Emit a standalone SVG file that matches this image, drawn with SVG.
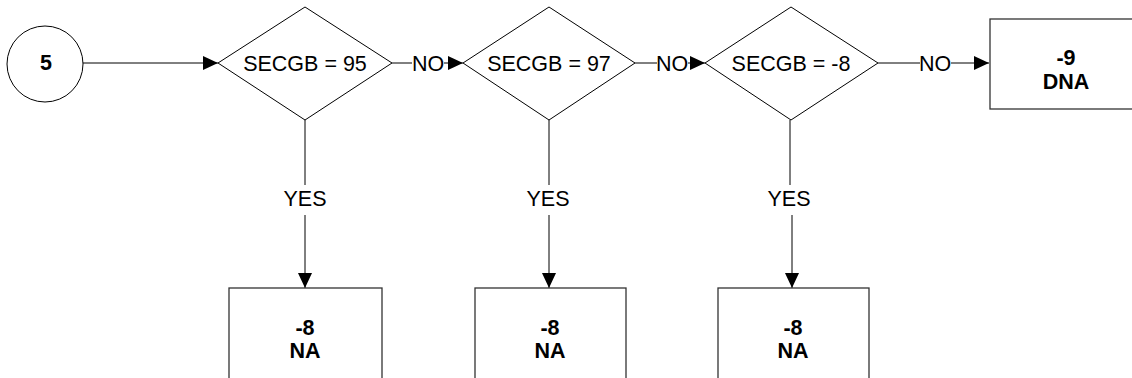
<svg xmlns="http://www.w3.org/2000/svg" width="1132" height="378" viewBox="0 0 1132 378">
<style>
.shape{fill:#fff;stroke:#000;stroke-width:1}
.box{fill:#fff;stroke:#333;stroke-width:1.3}
.line{fill:none;stroke:#000;stroke-width:1}
.t{font-family:"Liberation Sans",Arial,sans-serif;font-size:21.5px;fill:#000;text-anchor:middle}
.b{font-weight:bold}
</style>
<defs>
<marker id="ah" markerUnits="userSpaceOnUse" markerWidth="18" markerHeight="18" viewBox="0 0 18 18" refX="17" refY="9" orient="auto">
<path d="M2,2 L17,9 L2,16 Z" fill="#000"/>
</marker>
</defs>
<rect width="1132" height="378" fill="#fff"/>
<g id="connectors">
<line class="line" x1="83" y1="63" x2="218" y2="63" marker-end="url(#ah)"/>
<line class="line" x1="392" y1="63" x2="412" y2="63"/>
<line class="line" x1="444" y1="63" x2="463" y2="63" marker-end="url(#ah)"/>
<text class="t" x="428" y="71">NO</text>
<line class="line" x1="635" y1="63" x2="657" y2="63"/>
<line class="line" x1="688" y1="63" x2="705" y2="63" marker-end="url(#ah)"/>
<text class="t" x="672" y="71">NO</text>
<line class="line" x1="878" y1="63" x2="920" y2="63"/>
<line class="line" x1="951" y1="63" x2="989" y2="63" marker-end="url(#ah)"/>
<text class="t" x="935" y="71">NO</text>
<line class="line" x1="305" y1="120" x2="305" y2="185"/>
<line class="line" x1="305" y1="215" x2="305" y2="288" marker-end="url(#ah)"/>
<text class="t" x="305" y="206">YES</text>
<line class="line" x1="549" y1="120" x2="549" y2="185"/>
<line class="line" x1="549" y1="215" x2="549" y2="288" marker-end="url(#ah)"/>
<text class="t" x="548" y="206">YES</text>
<line class="line" x1="790" y1="120" x2="790" y2="185"/>
<line class="line" x1="792" y1="215" x2="792" y2="288" marker-end="url(#ah)"/>
<text class="t" x="789" y="206">YES</text>
</g>
<g id="start">
<circle class="shape" cx="45" cy="64" r="38"/>
<text class="t b" x="46" y="70">5</text>
</g>
<g id="d1">
<polygon class="shape" points="218,63 305,7 392,63 305,120"/>
<text class="t" x="305" y="71">SECGB = 95</text>
</g>
<g id="d2">
<polygon class="shape" points="463,63 549,7 635,63 549,120"/>
<text class="t" x="549" y="71">SECGB = 97</text>
</g>
<g id="d3">
<polygon class="shape" points="705,63 791,7 878,63 791,120"/>
<text class="t" x="791" y="71">SECGB = -8</text>
</g>
<g id="dna">
<rect class="box" x="990" y="19" width="152" height="90"/>
<text class="t b" x="1066" y="65">-9</text>
<text class="t b" x="1066" y="89">DNA</text>
</g>
<g id="na1">
<rect class="box" x="229" y="288" width="153" height="100"/>
<text class="t b" x="305" y="335">-8</text>
<text class="t b" x="305" y="358">NA</text>
</g>
<g id="na2">
<rect class="box" x="475" y="288" width="151" height="100"/>
<text class="t b" x="550" y="335">-8</text>
<text class="t b" x="550" y="358">NA</text>
</g>
<g id="na3">
<rect class="box" x="718" y="288" width="151" height="100"/>
<text class="t b" x="793" y="335">-8</text>
<text class="t b" x="793" y="358">NA</text>
</g>
</svg>
